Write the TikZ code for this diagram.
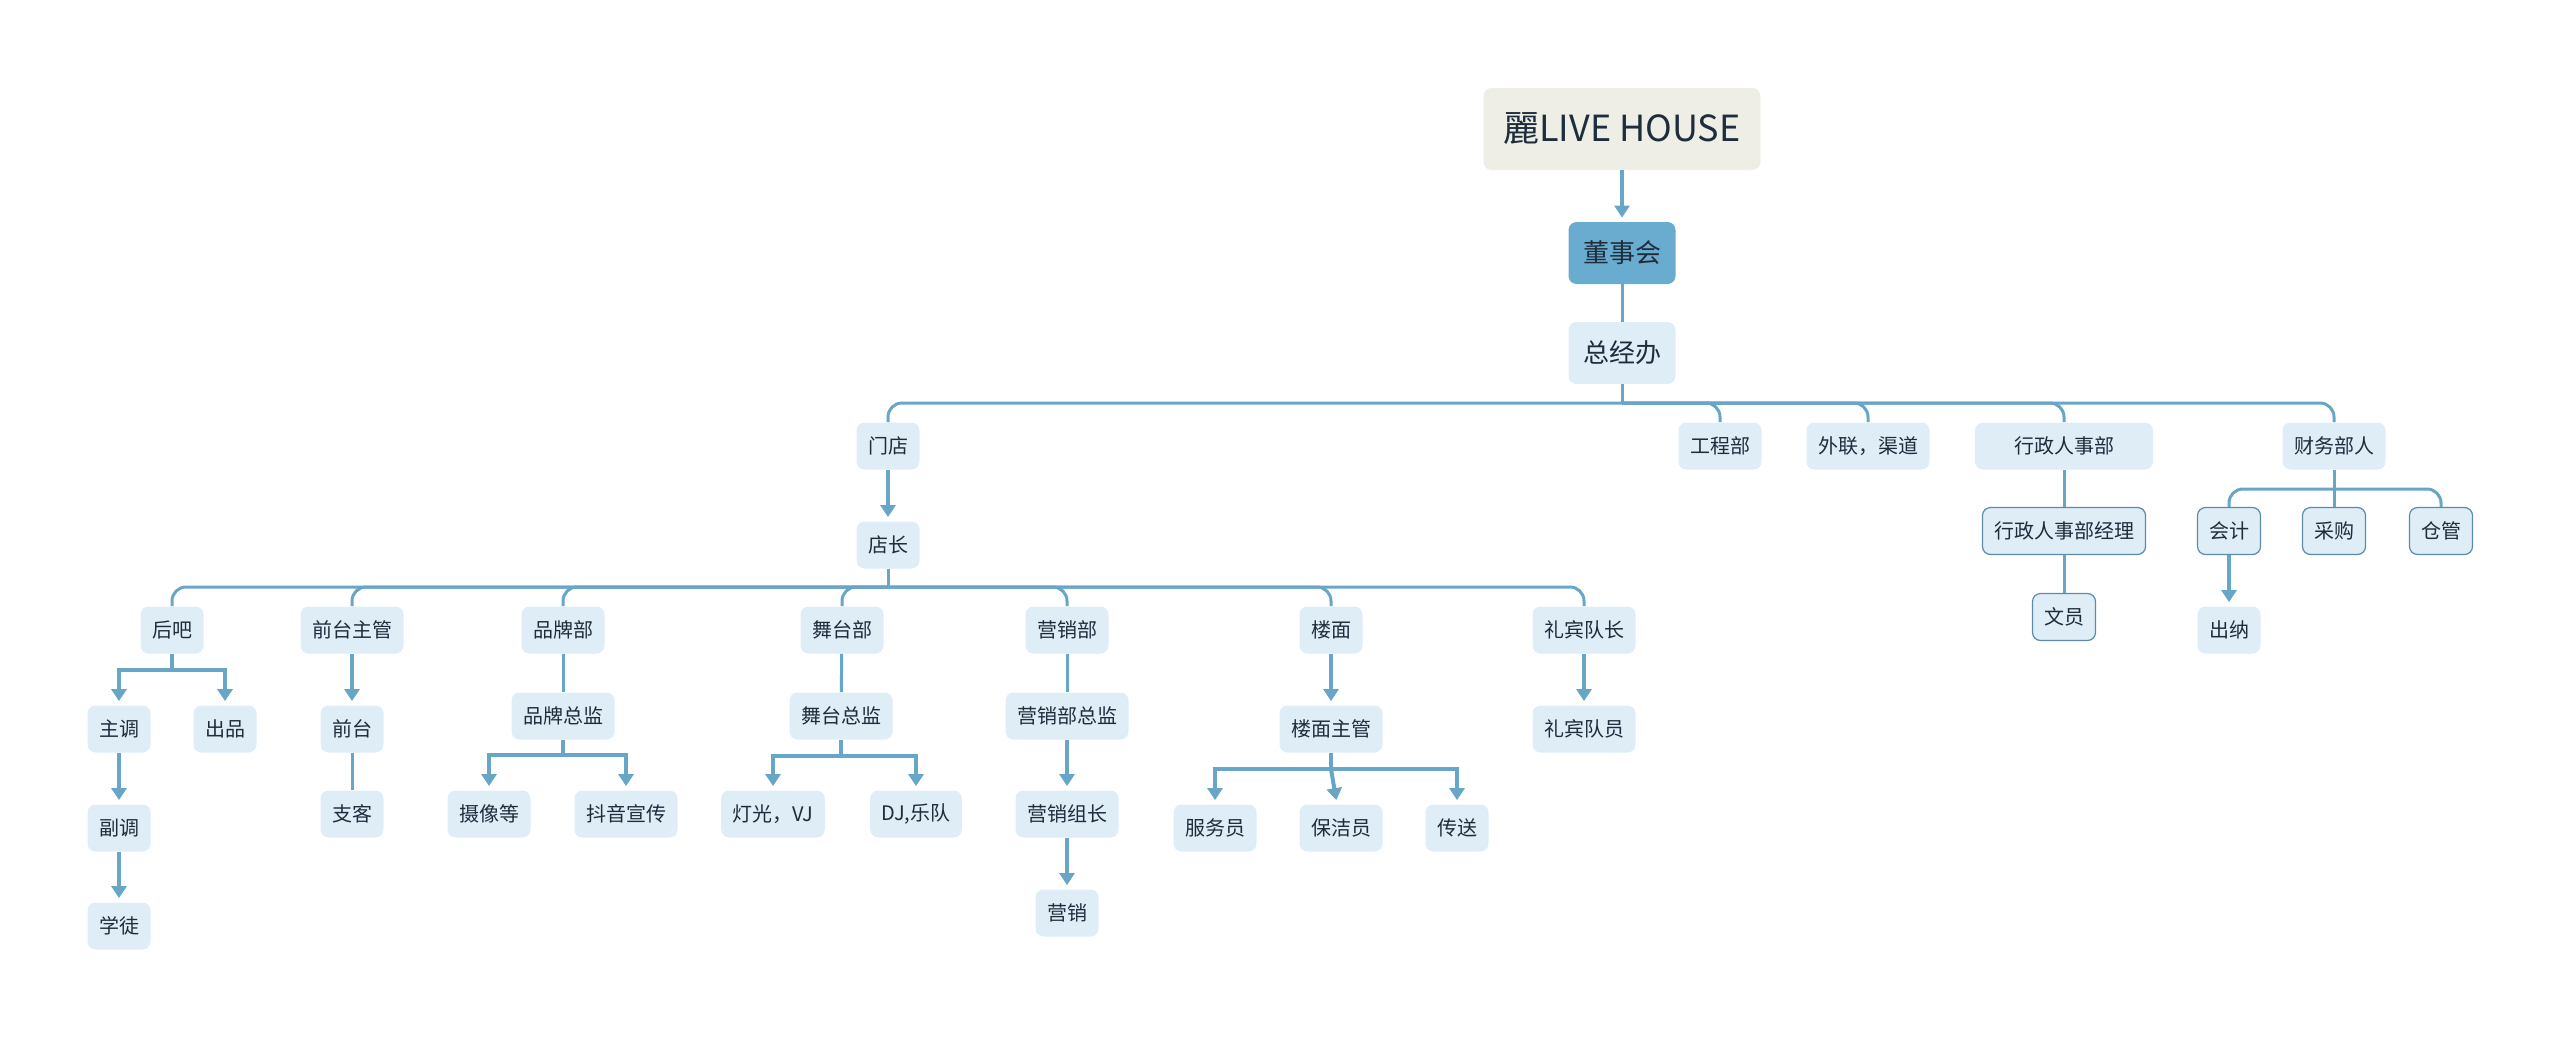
\documentclass[tikz,border=0pt]{standalone}
\usepackage{fontspec}
\setmainfont{Noto Sans CJK SC}
\usepackage{xcolor}
\usetikzlibrary{arrows.meta}
\definecolor{linkcol}{HTML}{68A6C8}
\definecolor{boxfill}{HTML}{DEEDF6}
\definecolor{boardfill}{HTML}{6AACD0}
\definecolor{rootfill}{HTML}{EFEEE6}
\definecolor{framecol}{HTML}{5A8CAA}
\definecolor{inkcol}{HTML}{1E2D3C}

\begin{document}
\begin{tikzpicture}[x=0.5pt, y=-0.5pt,
  every node/.style={rectangle, rounded corners=4pt, fill=boxfill, text=inkcol, font=\fontsize{10}{12}\selectfont, minimum height=23.5pt, inner xsep=5.75pt, inner ysep=0pt},
  rootbox/.style={fill=rootfill, font=\fontsize{18}{22}\selectfont, minimum height=41pt, minimum width=138.5pt},
  boardbox/.style={fill=boardfill, font=\fontsize{13}{16}\selectfont, minimum height=31pt, minimum width=53.5pt},
  officebox/.style={font=\fontsize{13}{16}\selectfont, minimum height=31pt, minimum width=53.5pt},
  framed/.style={draw=framecol, line width=0.6pt},
  link/.style={draw=linkcol, line width=1.5pt, rounded corners=7pt},
  trunk/.style={draw=linkcol, line width=2pt},
  flow/.style={trunk, -{Triangle[width=7.5pt,length=6pt]}, shorten >=2pt}
]
\useasboundingbox (0,0) rectangle (2560,1039);
% top of the chart
\node[rootbox] (live) at (1622,129) {麗LIVE HOUSE};
\node[boardbox] (dsh) at (1622,253) {董事会};
\node[officebox] (zjb) at (1622,353) {总经办};
% departments
\node (md) at (888,446) {门店};
\node (gcb) at (1720,446) {工程部};
\node (wl) at (1868,446) {外联，渠道};
\node[minimum width=89pt] (xzb) at (2064,446) {行政人事部};
\node (cwb) at (2334,446) {财务部人};
\node (dz) at (888,545) {店长};
\node[framed] (xzjl) at (2064,531) {行政人事部经理};
\node[framed] (wy) at (2064,617) {文员};
\node[framed] (kj) at (2229,531) {会计};
\node[framed] (cg) at (2334,531) {采购};
\node[framed] (cangg) at (2441,531) {仓管};
\node (cn) at (2229,630) {出纳};
% store teams
\node (hb) at (172,630) {后吧};
\node (qtzg) at (352,630) {前台主管};
\node (ppb) at (563,630) {品牌部};
\node (wtb) at (842,630) {舞台部};
\node (yxb) at (1067,630) {营销部};
\node (lm) at (1331,630) {楼面};
\node (lbdz) at (1584,630) {礼宾队长};
\node (zt) at (119,729) {主调};
\node (cp) at (225,729) {出品};
\node (ft) at (119,828) {副调};
\node (xt) at (119,926) {学徒};
\node (qt) at (352,729) {前台};
\node (zk) at (352,814) {支客};
\node (ppzj) at (563,716) {品牌总监};
\node (sxd) at (489,814) {摄像等};
\node (dy) at (626,814) {抖音宣传};
\node (wtzj) at (841,716) {舞台总监};
\node (dg) at (773,814) {灯光，VJ};
\node (dj) at (916,814) {DJ,乐队};
\node (yxzj) at (1067,716) {营销部总监};
\node (yxzz) at (1067,814) {营销组长};
\node (yx) at (1067,913) {营销};
\node (lmzg) at (1331,729) {楼面主管};
\node (fwy) at (1215,828) {服务员};
\node (bjy) at (1341,828) {保洁员};
\node (cs) at (1457,828) {传送};
\node (lbdy) at (1584,729) {礼宾队员};
% joints
\coordinate (zjbj) at (1622,403);
\coordinate (dzj) at (888,587);
\coordinate (cwj) at (2334,489);
\coordinate (hbj) at (172,670);
\coordinate (ppj) at (563,755);
\coordinate (wtj) at (841,756);
\coordinate (lmj) at (1331,769);
% connectors
\draw[flow] (live) -- (dsh);
\draw[link] (dsh) -- (zjb);
\draw[link] (zjb) -- (zjbj);
\foreach \n in {md,gcb,wl,xzb,cwb} \draw[link] (zjbj) -| (\n);
\draw[flow] (md) -- (dz);
\draw[link] (dz) -- (dzj);
\foreach \n in {hb,qtzg,ppb,wtb,yxb,lm,lbdz} \draw[link] (dzj) -| (\n);
\draw[link] (xzb) -- (xzjl);
\draw[link] (xzjl) -- (wy);
\draw[link] (cwb) -- (cwj);
\foreach \n in {kj,cg,cangg} \draw[link] (cwj) -| (\n);
\draw[flow] (kj) -- (cn);
\draw[trunk] (hb) -- (hbj);
\draw[flow] (hbj) -| (zt);
\draw[flow] (hbj) -| (cp);
\draw[flow] (zt) -- (ft);
\draw[flow] (ft) -- (xt);
\draw[flow] (qtzg) -- (qt);
\draw[link] (qt) -- (zk);
\draw[link] (ppb) -- (ppzj);
\draw[trunk] (ppzj) -- (ppj);
\draw[flow] (ppj) -| (sxd);
\draw[flow] (ppj) -| (dy);
\draw[link] (wtb) -- (wtzj);
\draw[trunk] (wtzj) -- (wtj);
\draw[flow] (wtj) -| (dg);
\draw[flow] (wtj) -| (dj);
\draw[link] (yxb) -- (yxzj);
\draw[flow] (yxzj) -- (yxzz);
\draw[flow] (yxzz) -- (yx);
\draw[flow] (lm) -- (lmzg);
\draw[trunk] (lmzg) -- (lmj);
\draw[flow] (lmj) -| (fwy);
\draw[flow] (lmj) -- (bjy);
\draw[flow] (lmj) -| (cs);
\draw[flow] (lbdz) -- (lbdy);
\end{tikzpicture}
\end{document}
